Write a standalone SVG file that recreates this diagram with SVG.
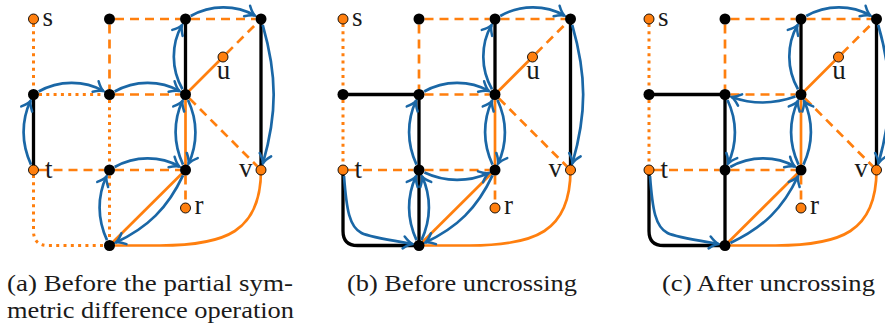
<svg xmlns="http://www.w3.org/2000/svg" width="885" height="324" viewBox="0 0 885 324">
<style>
.o{stroke:#ff7f0e;stroke-width:2.7;fill:none}
.od{stroke:#ff7f0e;stroke-width:2.7;fill:none;stroke-dasharray:9 6}
.ot{stroke:#ff7f0e;stroke-width:3;fill:none;stroke-dasharray:3 4.3}
.k{stroke:#000;stroke-width:3.3;fill:none;stroke-linejoin:round}
.b{stroke:#1a67a6;stroke-width:2.7;fill:none;marker-end:url(#arr)}
.nb{fill:#000}
.no{fill:#ff7f0e;stroke:#000;stroke-width:0.9}
.lbl{font-family:"Liberation Serif","DejaVu Serif",serif;font-size:27px;fill:#1a1a1a}
.cap{font-family:"Liberation Serif","DejaVu Serif",serif;font-size:24px;fill:#1a1a1a}
</style>
<defs>
<marker id="arr" markerUnits="userSpaceOnUse" orient="auto" refX="0" refY="0" markerWidth="20" markerHeight="20" overflow="visible">
<path d="M-9,-6 C-5,-2.2 -1.7,-0.5 0,0 C-1.7,0.5 -5,2.2 -9,6" fill="none" stroke="#1a67a6" stroke-width="2.5" stroke-linecap="round"/>
</marker>
</defs>

<!-- Panel (a) -->
<g id="panel-a">
<g id="a-connectors">
<path class="ot" d="M33.5,24 V89"/>
<path class="od" d="M115,19 H180"/>
<path class="od" d="M109.5,24.5 V89"/>
<path class="od" d="M191,19 H255.5"/>
<path class="k" d="M185.5,19 V94.5"/>
<path class="o" d="M185.5,94.5 L223,57"/>
<path class="od" d="M226.5,53.5 L257.1,22.9"/>
<path class="k" d="M261,19 V170"/>
<path class="ot" d="M39,94.5 H104"/>
<path class="od" d="M115,94.5 H180"/>
<path class="k" d="M33.5,94.5 V170"/>
<path class="ot" d="M109.5,100 V164.5"/>
<path class="o" d="M185.5,94.5 V170"/>
<path class="od" d="M189.4,98.4 L257.5,166.5"/>
<path class="od" d="M38.5,170 H104"/>
<path class="od" d="M115,170 H180"/>
<path class="ot" d="M33.5,175 V231 Q33.5,245.5 48,245.5 H104"/>
<path class="ot" d="M109.5,175.5 V240"/>
<path class="o" d="M185.5,170 L109.5,245.5"/>
<path class="od" d="M185.5,175.5 V203"/>
<path class="o" d="M109.5,245.5 H160 C225,245.5 261,232 261,170"/>
<path class="b" d="M190.7,16 C210.6,4.5 235.9,4.5 254.9,15.5"/>
<path class="b" d="M182.5,89.3 C171,69.4 171,44.1 182,25.1"/>
<path class="b" d="M262.7,24.8 C277.3,75.7 277.3,113.3 262.9,163.3"/>
<path class="b" d="M38.7,91.5 C58.6,80 84.4,80 103.4,91"/>
<path class="b" d="M114.7,91.5 C134.6,80 160.4,80 179.4,91"/>
<path class="b" d="M31,164.6 C21.2,143.7 21.2,120.8 30.5,100.8"/>
<path class="b" d="M114.7,167 C134.6,155.5 160.4,155.5 179.4,166.5"/>
<path class="b" d="M188,100 C197.8,120.8 197.8,143.7 188.5,163.7"/>
<path class="b" d="M183,164.6 C173.2,143.7 173.2,120.8 182.5,100.8"/>
<path class="b" d="M107,240.1 C97.2,219.2 97.2,196.3 106.5,176.3"/>
<path class="b" d="M183,175.4 C167.7,208.1 147.6,227.7 115.8,242.5"/>
</g>
<g id="a-s"><circle class="no" cx="33.5" cy="19" r="5"/><text class="lbl" x="42.5" y="25.5">s</text></g>
<g id="a-n1"><circle class="nb" cx="109.5" cy="19" r="5.5"/></g>
<g id="a-n2"><circle class="nb" cx="185.5" cy="19" r="5.5"/></g>
<g id="a-n3"><circle class="nb" cx="261" cy="19" r="5.5"/></g>
<g id="a-n4"><circle class="nb" cx="33.5" cy="94.5" r="5.5"/></g>
<g id="a-n5"><circle class="nb" cx="109.5" cy="94.5" r="5.5"/></g>
<g id="a-n6"><circle class="nb" cx="185.5" cy="94.5" r="5.5"/></g>
<g id="a-u"><circle class="no" cx="223" cy="57" r="5"/><text class="lbl" x="223.5" y="78.5" text-anchor="middle">u</text></g>
<g id="a-t"><circle class="no" cx="33.5" cy="170" r="5"/><text class="lbl" x="45" y="178">t</text></g>
<g id="a-n7"><circle class="nb" cx="109.5" cy="170" r="5.5"/></g>
<g id="a-n8"><circle class="nb" cx="185.5" cy="170" r="5.5"/></g>
<g id="a-v"><circle class="no" cx="261" cy="170" r="5"/><text class="lbl" x="252.5" y="177" text-anchor="end">v</text></g>
<g id="a-r"><circle class="no" cx="185.5" cy="208" r="5"/><text class="lbl" x="194.5" y="214">r</text></g>
<g id="a-n9"><circle class="nb" cx="109.5" cy="245.5" r="5.5"/></g>
<text class="cap" x="7" y="290.5" textLength="286" lengthAdjust="spacingAndGlyphs">(a) Before the partial sym-</text>
<text class="cap" x="7" y="318" textLength="287" lengthAdjust="spacingAndGlyphs">metric difference operation</text>
</g>

<!-- Panel (b) -->
<g id="panel-b" transform="translate(309.5,0)">
<g id="b-connectors">
<path class="ot" d="M33.5,24 V89"/>
<path class="od" d="M115,19 H180"/>
<path class="od" d="M109.5,24.5 V89"/>
<path class="od" d="M191,19 H255.5"/>
<path class="k" d="M185.5,19 V94.5"/>
<path class="o" d="M185.5,94.5 L223,57"/>
<path class="od" d="M226.5,53.5 L257.1,22.9"/>
<path class="k" d="M261,19 V170"/>
<path class="k" d="M33.5,94.5 H109.5"/>
<path class="od" d="M115,94.5 H180"/>
<path class="ot" d="M33.5,100 V165"/>
<path class="k" d="M109.5,94.5 V245.5"/>
<path class="o" d="M185.5,94.5 V170"/>
<path class="od" d="M189.4,98.4 L257.5,166.5"/>
<path class="od" d="M38.5,170 H104"/>
<path class="od" d="M115,170 H180"/>
<path class="k" d="M33.5,170 V231 Q33.5,245.5 48,245.5 H109.5"/>
<path class="o" d="M185.5,170 L109.5,245.5"/>
<path class="od" d="M185.5,175.5 V203"/>
<path class="o" d="M109.5,245.5 H160 C225,245.5 261,232 261,170"/>
<path class="b" d="M190.7,16 C210.6,4.5 235.9,4.5 254.9,15.5"/>
<path class="b" d="M182.5,89.3 C171,69.4 171,44.1 182,25.1"/>
<path class="b" d="M262.7,24.8 C277.3,75.7 277.3,113.3 262.9,163.3"/>
<path class="b" d="M114.7,91.5 C134.6,80 160.4,80 179.4,91"/>
<path class="b" d="M107,164.6 C97.2,143.7 97.2,120.8 106.5,100.8"/>
<path class="b" d="M107,240.1 C97.2,219.2 97.2,196.3 106.5,176.3"/>
<path class="b" d="M112,240.1 C121.8,219.2 121.8,196.3 112.5,176.3"/>
<path class="b" d="M114.9,172.5 C135.8,182.3 159.2,182.3 179.2,173"/>
<path class="b" d="M188,100 C197.8,120.8 197.8,143.7 188.5,163.7"/>
<path class="b" d="M183,164.6 C173.2,143.7 173.2,120.8 182.5,100.8"/>
<path class="b" d="M183,175.4 C167.7,208.1 147.6,227.7 115.8,242.5"/>
<path class="b" d="M34.5,176 C37,210 40,227 52,233 C60,237 80,240 103,244"/>
</g>
<g id="b-s"><circle class="no" cx="33.5" cy="19" r="5"/><text class="lbl" x="42.5" y="25.5">s</text></g>
<g id="b-n1"><circle class="nb" cx="109.5" cy="19" r="5.5"/></g>
<g id="b-n2"><circle class="nb" cx="185.5" cy="19" r="5.5"/></g>
<g id="b-n3"><circle class="nb" cx="261" cy="19" r="5.5"/></g>
<g id="b-n4"><circle class="nb" cx="33.5" cy="94.5" r="5.5"/></g>
<g id="b-n5"><circle class="nb" cx="109.5" cy="94.5" r="5.5"/></g>
<g id="b-n6"><circle class="nb" cx="185.5" cy="94.5" r="5.5"/></g>
<g id="b-u"><circle class="no" cx="223" cy="57" r="5"/><text class="lbl" x="223.5" y="78.5" text-anchor="middle">u</text></g>
<g id="b-t"><circle class="no" cx="33.5" cy="170" r="5"/><text class="lbl" x="45" y="178">t</text></g>
<g id="b-n7"><circle class="nb" cx="109.5" cy="170" r="5.5"/></g>
<g id="b-n8"><circle class="nb" cx="185.5" cy="170" r="5.5"/></g>
<g id="b-v"><circle class="no" cx="261" cy="170" r="5"/><text class="lbl" x="252.5" y="177" text-anchor="end">v</text></g>
<g id="b-r"><circle class="no" cx="185.5" cy="208" r="5"/><text class="lbl" x="194.5" y="214">r</text></g>
<g id="b-n9"><circle class="nb" cx="109.5" cy="245.5" r="5.5"/></g>
<text class="cap" x="37.5" y="290.5" textLength="230" lengthAdjust="spacingAndGlyphs">(b) Before uncrossing</text>
</g>

<!-- Panel (c) -->
<g id="panel-c" transform="translate(615.5,0)">
<g id="c-connectors">
<path class="ot" d="M33.5,24 V89"/>
<path class="od" d="M115,19 H180"/>
<path class="od" d="M109.5,24.5 V89"/>
<path class="od" d="M191,19 H255.5"/>
<path class="k" d="M185.5,19 V94.5"/>
<path class="o" d="M185.5,94.5 L223,57"/>
<path class="od" d="M226.5,53.5 L257.1,22.9"/>
<path class="k" d="M261,19 V170"/>
<path class="k" d="M33.5,94.5 H109.5"/>
<path class="od" d="M115,94.5 H180"/>
<path class="ot" d="M33.5,100 V165"/>
<path class="k" d="M109.5,94.5 V245.5"/>
<path class="o" d="M185.5,94.5 V170"/>
<path class="od" d="M189.4,98.4 L257.5,166.5"/>
<path class="od" d="M38.5,170 H104"/>
<path class="od" d="M115,170 H180"/>
<path class="k" d="M33.5,170 V231 Q33.5,245.5 48,245.5 H109.5"/>
<path class="o" d="M185.5,170 L109.5,245.5"/>
<path class="od" d="M185.5,175.5 V203"/>
<path class="o" d="M109.5,245.5 H160 C225,245.5 261,232 261,170"/>
<path class="b" d="M190.7,16 C210.6,4.5 235.9,4.5 254.9,15.5"/>
<path class="b" d="M182.5,89.3 C171,69.4 171,44.1 182,25.1"/>
<path class="b" d="M262.7,24.8 C277.3,75.7 277.3,113.3 262.9,163.3"/>
<path class="b" d="M179.9,96.6 C158.2,104.4 136.8,104.4 116.1,96.9"/>
<path class="b" d="M112,100 C121.8,120.8 121.8,143.7 112.5,163.7"/>
<path class="b" d="M114.7,167 C134.6,155.5 160.4,155.5 179.4,166.5"/>
<path class="b" d="M183,164.6 C173.2,143.7 173.2,120.8 182.5,100.8"/>
<path class="b" d="M188,164.6 C197.8,143.7 197.8,120.8 188.5,100.8"/>
<path class="b" d="M114.9,243 C147.6,227.7 167.7,208.1 182.5,176.3"/>
<path class="b" d="M34.5,176 C37,210 40,227 52,233 C60,237 80,240 103,244"/>
</g>
<g id="c-s"><circle class="no" cx="33.5" cy="19" r="5"/><text class="lbl" x="42.5" y="25.5">s</text></g>
<g id="c-n1"><circle class="nb" cx="109.5" cy="19" r="5.5"/></g>
<g id="c-n2"><circle class="nb" cx="185.5" cy="19" r="5.5"/></g>
<g id="c-n3"><circle class="nb" cx="261" cy="19" r="5.5"/></g>
<g id="c-n4"><circle class="nb" cx="33.5" cy="94.5" r="5.5"/></g>
<g id="c-n5"><circle class="nb" cx="109.5" cy="94.5" r="5.5"/></g>
<g id="c-n6"><circle class="nb" cx="185.5" cy="94.5" r="5.5"/></g>
<g id="c-u"><circle class="no" cx="223" cy="57" r="5"/><text class="lbl" x="223.5" y="78.5" text-anchor="middle">u</text></g>
<g id="c-t"><circle class="no" cx="33.5" cy="170" r="5"/><text class="lbl" x="45" y="178">t</text></g>
<g id="c-n7"><circle class="nb" cx="109.5" cy="170" r="5.5"/></g>
<g id="c-n8"><circle class="nb" cx="185.5" cy="170" r="5.5"/></g>
<g id="c-v"><circle class="no" cx="261" cy="170" r="5"/><text class="lbl" x="252.5" y="177" text-anchor="end">v</text></g>
<g id="c-r"><circle class="no" cx="185.5" cy="208" r="5"/><text class="lbl" x="194.5" y="214">r</text></g>
<g id="c-n9"><circle class="nb" cx="109.5" cy="245.5" r="5.5"/></g>
<text class="cap" x="46.5" y="290.5" textLength="213" lengthAdjust="spacingAndGlyphs">(c) After uncrossing</text>
</g>
</svg>
